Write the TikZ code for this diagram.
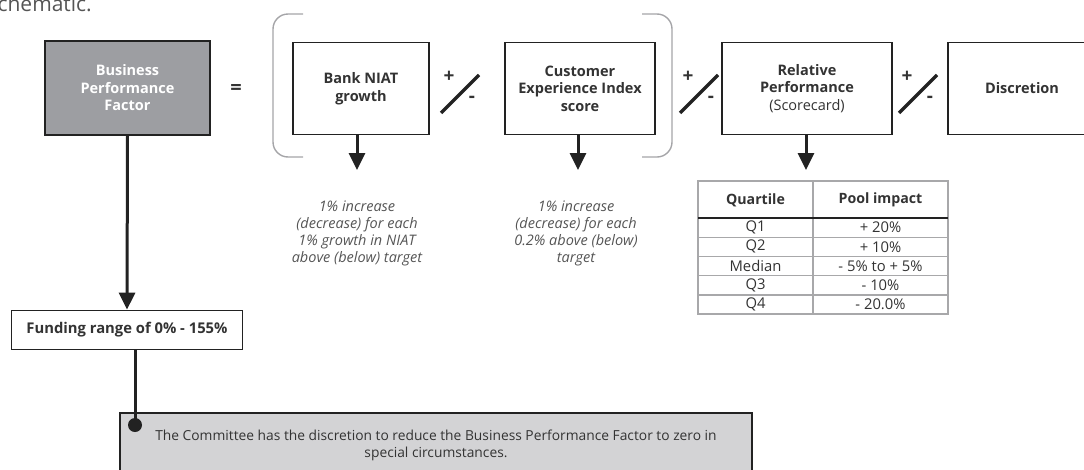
\documentclass[tikz,border=0pt]{standalone}
\usepackage{fontspec}
\setmainfont{Open Sans}
\usetikzlibrary{arrows.meta,calc}
\definecolor{boxgrey}{HTML}{9D9EA2}
\definecolor{notegrey}{HTML}{D3D3D5}
\definecolor{edge}{HTML}{222222}
\definecolor{txt}{HTML}{333333}
\definecolor{itxt}{HTML}{555555}
\definecolor{brk}{HTML}{A5A5A8}
\definecolor{tbl}{HTML}{A8A8AA}
\tikzset{
  mainbox/.style={draw=edge, line width=1.8pt, fill=white, align=center, text=txt,
    font=\fontsize{14.5}{17.5}\selectfont\bfseries, inner sep=0pt},
  bigarrow/.style={line width=3pt, draw=edge, -{Triangle[width=16pt,length=17pt]}},
  bracketline/.style={draw=brk, line width=1.4pt, rounded corners=15pt},
  slashline/.style={draw=edge, line width=3.5pt},
  pm/.style={text=txt, font=\fontsize{19}{19}\selectfont\bfseries, inner sep=0pt},
  itnote/.style={align=center, text=itxt, font=\fontsize{14.5}{17}\selectfont\itshape, inner sep=0pt},
  cell/.style={text=txt, font=\fontsize{14.8}{15}\selectfont, inner sep=0pt},
  headcell/.style={text=txt, font=\fontsize{14.2}{15}\selectfont\bfseries, inner sep=0pt}
}
\begin{document}
\begin{tikzpicture}[x=1pt,y=-1pt]
\useasboundingbox (0,0) rectangle (1084,469);
\clip (0,0) rectangle (1084,469);
% partial heading
\node[anchor=base east, text=itxt, font=\fontsize{21}{21}\selectfont, inner sep=0pt] (head) at (92,11) {schematic.};
% main boxes
\node[mainbox, fill=boxgrey, text=white, minimum width=165pt, minimum height=94pt] (bpf) at (127.5,88) {Business\\Performance\\Factor};
\node[text=txt, font=\fontsize{20}{20}\selectfont\bfseries, inner sep=0pt] (eq) at (236,89) {=};
\node[mainbox, minimum width=136pt, minimum height=92pt] (bank) at (361,88.5) {Bank NIAT\\growth};
\node[mainbox, minimum width=150pt, minimum height=92pt] (cust) at (580,88.5) {Customer\\Experience Index\\score};
\node[mainbox, minimum width=170pt, minimum height=92pt] (rel) at (807,88.5) {Relative\\Performance\\{\mdseries(Scorecard)}};
\node[mainbox, minimum width=148pt, minimum height=92pt] (disc) at (1022,88.5) {Discretion};
% brackets
\draw[bracketline] (303,14) -- (273,14) -- (273,157) -- (303,157);
\draw[bracketline] (642,14) -- (672,14) -- (672,157) -- (642,157);
% plus/minus signs
\foreach \x/\n in {441/a,680/b,899/c}{
  \coordinate (s\n1) at (\x,113);
  \coordinate (s\n2) at (\x+38,75);
  \draw[slashline] (s\n1) -- (s\n2);
  \node[pm] (p\n) at (\x+8,77) {+};
  \node[pm] (m\n) at (\x+31,99) {-};
}
% arrows to descriptions
\coordinate (bankend) at (357,170);
\coordinate (custend) at (578,170);
\coordinate (relend) at (806,170);
\draw[bigarrow] (bankend |- bank.south) -- (bankend);
\draw[bigarrow] (custend |- cust.south) -- (custend);
\draw[bigarrow] (relend |- rel.south) -- (relend);
\node[itnote] (banktxt) at (357,233) {1\% increase\\(decrease) for each\\1\% growth in NIAT\\above (below) target};
\node[itnote] (custtxt) at (576,233) {1\% increase\\(decrease) for each\\0.2\% above (below)\\target};
% table
\draw[tbl, line width=1.4pt] (698,181) rectangle (948,314);
\draw[tbl, line width=1.4pt] (813,181) -- (813,314);
\foreach \y in {237.2,256.4,275.6,294.8}{\draw[tbl, line width=1.4pt] (698,\y) -- (948,\y);}
\draw[edge, line width=1.4pt] (698,218) -- (948,218);
\node[headcell] (hq) at (755.5,200) {Quartile};
\node[headcell] (hp) at (880.5,200) {Pool impact};
\foreach \y/\a/\b [count=\i] in {227.6/Q1/+ 20\%,246.8/Q2/+ 10\%,266/Median/- 5\% to + 5\%,285.2/Q3/- 10\%,304.4/Q4/- 20.0\%}{
  \node[cell] (qa\i) at (755.5,\y) {\a};
  \node[cell] (qb\i) at (880.5,\y) {\b};
}
% funding
\node[mainbox, font=\fontsize{14.8}{15}\selectfont\bfseries, minimum width=231pt, minimum height=39pt] (fund) at (127,330) {Funding range of 0\% - 155\%};
\draw[bigarrow] (bpf.south) -- (fund.north);
% note box
\node[draw=edge, line width=1.8pt, fill=notegrey, minimum width=632pt, minimum height=80pt, inner sep=0pt] (note) at (436,453) {};
\node[align=center, text=txt, font=\fontsize{13.8}{17}\selectfont, inner sep=0pt] (notetxt) at (436,445) {The Committee has the discretion to reduce the Business Performance Factor to zero in\\special circumstances.};
\node[circle, fill=edge, minimum size=14pt, inner sep=0pt] (dot) at (135,425) {};
\draw[edge, line width=3pt] (dot |- fund.south) -- (dot.center);
\end{tikzpicture}
\end{document}
